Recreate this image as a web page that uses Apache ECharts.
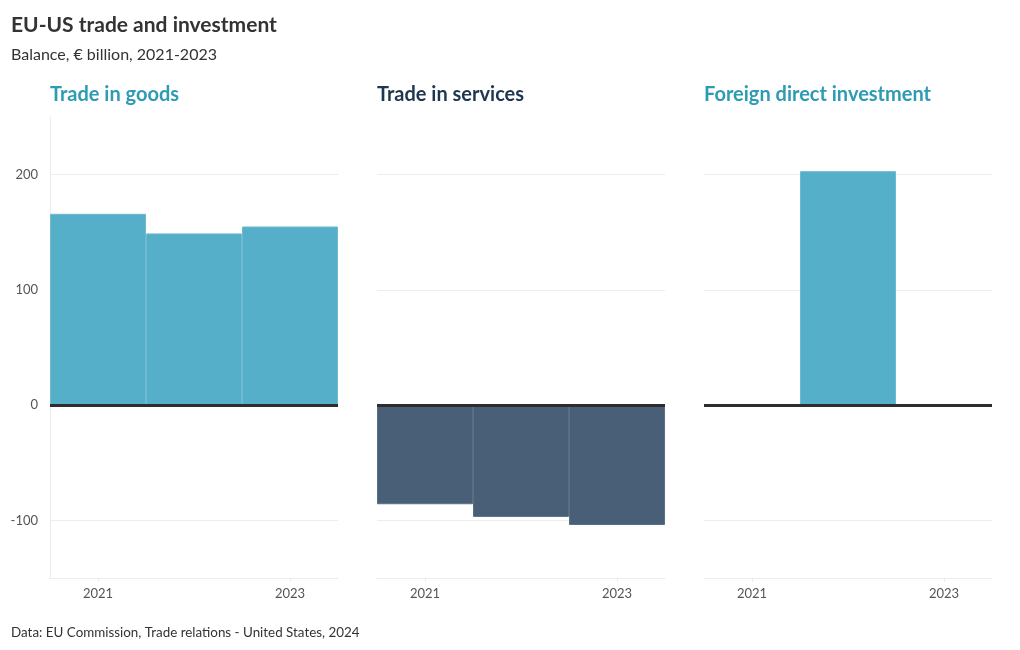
<!DOCTYPE html>
<html><head><meta charset="utf-8">
<script src="https://cdn.jsdelivr.net/npm/echarts@6/dist/echarts.min.js"></script>
<style>html,body{margin:0;padding:0;background:#fff}#c{width:1020px;height:650px}</style>
</head><body><div id="c"></div>
<script>
const years = ['2021', '2022', '2023'];
const panelTitles = ['Trade in goods', 'Trade in services', 'Foreign direct investment'];
const goods = [166, 149, 155];
const services = [-86, -97, -104];
const fdi = [null, 203, null];
const yTicks = [-100, 0, 100, 200];

const FONT = 'Lato';
const panels = [goods, services, fdi];
const colors = ['#56afc9', '#495f78', '#56afc9'];
const borders = ['#6dbad1', '#5a6e86', '#6dbad1'];
const titleColors = ['#2e9bb5', '#1f3650', '#2e9bb5'];
const lefts = [50, 377, 704];
const W = 288;

const chart = echarts.init(document.getElementById('c'));
const grids = [], xAxes = [], yAxes = [], series = [], titles = [];
titles.push({text: 'EU-US trade and investment', left: 11, top: 15, padding: 0,
  textStyle: {fontFamily: FONT, fontSize: 21, fontWeight: 'bold', color: '#333'}});
titles.push({text: 'Balance, € billion, 2021-2023', left: 11, top: 47, padding: 0,
  textStyle: {fontFamily: FONT, fontSize: 16, fontWeight: 'normal', color: '#333'}});
titles.push({text: 'Data: EU Commission, Trade relations - United States, 2024', left: 11, top: 626, padding: 0,
  textStyle: {fontFamily: FONT, fontSize: 13.4, fontWeight: 'normal', color: '#333'}});
panels.forEach((vals, i) => {
  titles.push({text: panelTitles[i], left: lefts[i], top: 85, padding: 0,
    textStyle: {fontFamily: FONT, fontSize: 20, fontWeight: 'bold', color: titleColors[i]}});
  grids.push({left: lefts[i], width: W, top: 117, height: 461, containLabel: false});
  xAxes.push({type: 'category', gridIndex: i, data: years,
    axisLine: {onZero: false, lineStyle: {color: '#ececec'}},
    axisTick: {show: true, alignWithLabel: true, interval: 1, length: 4, lineStyle: {color: '#ececec'}},
    axisLabel: {interval: 1, color: '#555', fontFamily: FONT, fontSize: 13, margin: 9}});
  yAxes.push({type: 'value', gridIndex: i, min: -150, max: 250,
    axisLine: {show: i === 0, lineStyle: {color: '#ececec'}},
    axisTick: {show: false, customValues: yTicks},
    splitLine: {show: true, lineStyle: {color: '#ededed'}},
    axisLabel: {show: i === 0, customValues: yTicks, color: '#555', fontFamily: FONT, fontSize: 13, margin: 12}});
  series.push({type: 'bar', xAxisIndex: i, yAxisIndex: i, data: vals,
    barWidth: '100%', barCategoryGap: '0%',
    itemStyle: {color: colors[i], borderColor: borders[i], borderWidth: 1},
    markLine: {silent: true, symbol: 'none', label: {show: false},
      lineStyle: {color: '#2d2d2d', width: 3, type: 'solid'},
      data: [{yAxis: 0}]},
    animation: false});
});
chart.setOption({animation: false, title: titles, grid: grids, xAxis: xAxes, yAxis: yAxes, series: series});
</script></body></html>
